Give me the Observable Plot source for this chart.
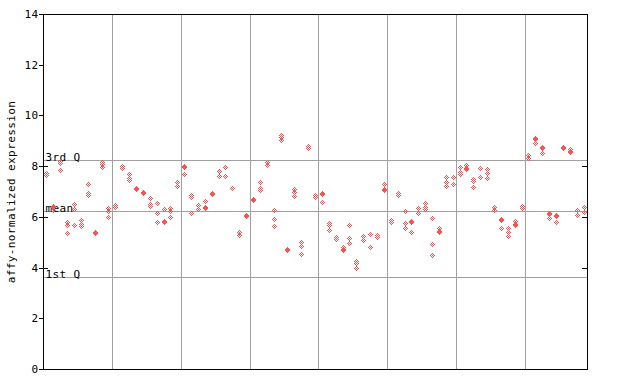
<!DOCTYPE html>
<html>
<head>
<meta charset="utf-8">
<script src="https://cdn.jsdelivr.net/npm/d3@7"></script>
<script src="https://cdn.jsdelivr.net/npm/@observablehq/plot@0.6"></script>
<style>
  html, body { margin: 0; padding: 0; background: white; }
  svg text { letter-spacing: 0.4px; }
</style>
</head>
<body>
<div id="chart"></div>
<script>
// Values per sample (three replicates, null where none visible)
const rep1 = [7.74,6.42,8.22,5.80,6.50,5.88,7.30,5.42,8.18,6.34,6.45,8.00,7.68,7.15,7.00,6.75,6.55,6.30,6.33,7.37,
              8.02,6.88,6.46,6.62,6.95,7.80,7.97,7.15,5.42,6.08,6.72,7.37,8.18,6.27,9.22,4.75,7.10,5.00,8.80,6.87,
              6.95,5.75,5.20,4.80,5.68,4.25,5.25,5.32,5.28,7.30,5.88,6.93,6.23,5.82,6.35,6.55,5.95,5.58,7.57,7.57,
              7.97,8.06,7.50,7.93,7.90,6.40,5.93,5.56,5.84,6.42,8.44,9.12,8.74,6.17,6.08,8.77,8.66,6.27,6.40];
const rep2 = [7.64,6.38,8.14,5.68,6.30,5.70,6.95,5.38,8.10,6.25,6.38,7.92,7.55,7.08,6.95,6.50,6.15,5.85,6.22,7.22,
              7.95,6.80,6.30,6.40,6.92,7.60,7.60,7.12,5.30,6.04,6.68,7.12,8.05,5.91,9.15,4.70,7.00,4.85,8.70,6.80,
              6.90,5.68,5.14,4.73,5.17,4.18,5.10,4.81,5.22,7.10,5.80,6.88,5.76,5.78,6.15,6.38,4.93,5.46,7.37,7.30,
              7.75,7.94,7.42,7.57,7.72,6.27,5.88,5.40,5.72,6.35,8.32,9.08,8.70,6.12,6.02,8.72,8.60,6.07,6.20];
const rep3 = [null,6.27,7.85,5.36,5.68,5.65,6.88,null,7.98,5.98,null,null,7.45,null,null,6.42,5.80,5.78,6.00,null,
              7.68,6.15,null,6.35,null,null,null,null,null,null,null,7.05,null,5.64,9.05,null,6.82,4.53,null,null,
              6.58,5.48,null,4.70,4.97,3.98,null,null,null,7.05,null,null,5.56,5.40,null,6.32,4.50,5.42,7.20,null,
              7.70,7.90,7.18,null,7.53,null,5.56,5.24,5.68,null,null,8.90,8.52,5.95,5.80,null,8.55,null,null];

const groupBreaks = [9.5, 19.5, 29.5, 39.5, 49.5, 59.5, 69.5];
const quartileLabels = ["3rd Q", "mean", "1st Q"];
const quartileValues = [8.23, 6.23, 3.62];
const yTicks = [0, 2, 4, 6, 8, 10, 12, 14];
const innerTicks = [4, 6, 8];
const yLabel = "affy-normalized expression";

const points = [];
rep1.forEach((_, i) => {
  for (const rep of [rep1, rep2, rep3]) {
    if (rep[i] != null) points.push({i, v: rep[i]});
  }
});

const diamond = {
  draw(ctx) {
    const h = 3.5, w = 3;
    ctx.moveTo(0, -h); ctx.lineTo(w, 0); ctx.lineTo(0, h); ctx.lineTo(-w, 0); ctx.closePath();
  }
};

const plotWidth = 640 - 43 - 53;

const svg = Plot.plot({
  width: 640,
  height: 384,
  marginLeft: 43,
  marginRight: 53,
  marginTop: 14,
  marginBottom: 15,
  x: {domain: [-0.5, rep1.length - 0.5], axis: null, round: true},
  y: {domain: [0, 14], round: true},
  style: {fontFamily: "DejaVu Sans Mono", fontSize: "11px", background: "white", color: "black"},
  marks: [
    Plot.ruleX(groupBreaks, {stroke: "#a0a0a0", strokeOpacity: 1}),
    Plot.ruleY(quartileValues, {stroke: "#a0a0a0", strokeOpacity: 1}),
    Plot.text(quartileLabels, {
      x: -0.5, y: (d, i) => quartileValues[i], text: d => d,
      textAnchor: "start", lineAnchor: "bottom", dx: 2, dy: 0, fill: "black"
    }),
    Plot.frame({stroke: "black", strokeOpacity: 1}),
    Plot.axisY({
      ticks: yTicks, tickSize: 4, tickPadding: 1,
      label: yLabel, labelAnchor: "center", labelArrow: "none", labelOffset: 36
    }),
    Plot.tickY(innerTicks, {y: d => d, stroke: "black", insetRight: plotWidth - 5}),
    Plot.tickY(innerTicks, {y: d => d, stroke: "black", insetLeft: plotWidth - 5}),
    Plot.dot(points, {x: "i", y: "v", symbol: diamond, fill: "url(#hatch)", stroke: null, shapeRendering: "crispEdges"})
  ]
});

const ns = "http://www.w3.org/2000/svg";
const defs = document.createElementNS(ns, "defs");
const pat = document.createElementNS(ns, "pattern");
pat.setAttribute("id", "hatch");
pat.setAttribute("width", "2");
pat.setAttribute("height", "2");
pat.setAttribute("patternUnits", "userSpaceOnUse");
pat.setAttribute("patternTransform", "translate(0.5,0.5)");
for (const [x, y] of [[0, 0], [1, 1]]) {
  const r = document.createElementNS(ns, "rect");
  r.setAttribute("x", x); r.setAttribute("y", y);
  r.setAttribute("width", 1); r.setAttribute("height", 1);
  r.setAttribute("fill", "#ff4f4f");
  pat.appendChild(r);
}
defs.appendChild(pat);
svg.insertBefore(defs, svg.firstChild);

document.getElementById("chart").appendChild(svg);
</script>
</body>
</html>
